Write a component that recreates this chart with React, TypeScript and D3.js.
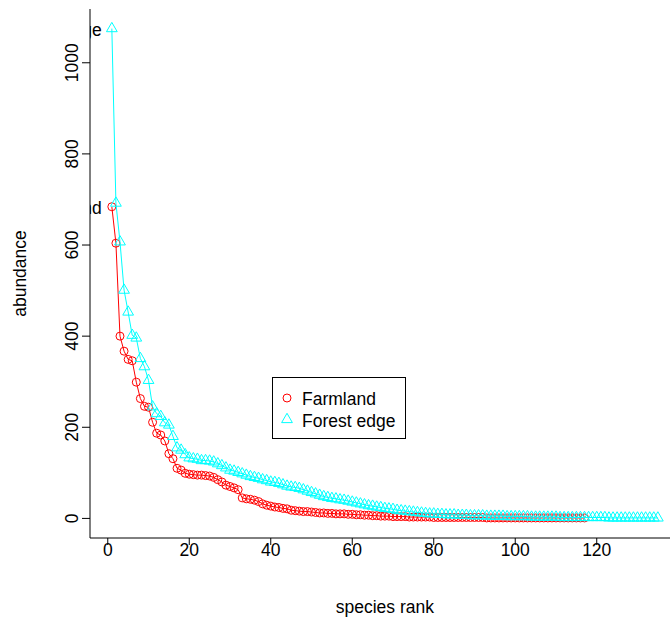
import React from "react";
import * as d3 from "d3";

const farmland: number[] = [
  684, 604, 400, 367, 349, 346, 299, 263, 246, 244,
  211, 187, 183, 170, 142, 131, 110, 106, 99,
  97, 96, 95, 95, 94, 93, 90, 85, 80, 73, 70, 67, 63,
  45, 43, 42, 40, 37, 32, 29, 27, 25, 24, 22, 21, 18, 17, 16, 15, 15, 14,
  13, 12, 12, 11, 11, 10, 10, 10, 9, 9,
  8, 8, 7, 7, 6, 6, 5, 5, 5, 4,
  4, 4, 4, 3, 3, 3, 3, 3, 3, 2,
  2, 2, 2, 2, 2, 2, 2, 2, 2, 2, 2, 2,
  1, 1, 1, 1, 1, 1, 1, 1, 1, 1, 1, 1, 1, 1, 1, 1, 1, 1, 1, 1, 1, 1, 1, 1, 1,
];

const forestEdge: number[] = [
  1075, 692, 607, 501, 453, 402, 396, 351, 333, 303,
  245, 230, 224, 210, 205, 180, 155, 150, 140,
  133, 131, 130, 127, 127, 126, 124, 120, 116, 111, 106, 104, 101, 98, 95, 92, 90, 88, 85, 83, 80,
  79, 77, 74, 71, 69, 68, 66, 63, 60, 57, 54, 51, 48, 46, 44, 43, 41, 40, 38, 36,
  34, 32, 30, 28, 27, 25, 24, 22, 21, 20, 18, 17, 16, 15, 14, 13, 12, 11, 10, 10,
  9, 9, 8, 8, 8, 7, 7, 7, 6, 6, 6, 6, 5, 5, 5, 5, 5, 4, 4, 4,
  4, 4, 4, 3, 3, 3, 3, 3, 3, 3,
  2, 2, 2, 2, 2, 2, 2, 2, 2, 2, 2, 2,
  1, 1, 1, 1, 1, 1, 1, 1, 1, 1, 1, 1, 1,
];

const seriesNames: string[] = ["Farmland", "Forest edge"];
const seriesColors: string[] = ["#ff0000", "#00ffff"];
const xTicks: number[] = [0, 20, 40, 60, 80, 100, 120];
const yTicks: number[] = [0, 200, 400, 600, 800, 1000];
const xTitle = "species rank";
const yTitle = "abundance";

const W = 670;
const H = 623;
const FONT = "'Liberation Sans', Arial, Helvetica, sans-serif";
const FS = 17.5;

// plot region (R-like)
const left = 90;
const right = 679.7;
const top = 9;
const bottom = 538;

function triPath(cx: number, cy: number, s: number): string {
  const r = 1.5551 * s;
  const xc = 1.3468 * s;
  const yc = 0.7776 * s;
  return `M${cx},${cy - r}L${cx + xc},${cy + yc}L${cx - xc},${cy + yc}Z`;
}

export default function App() {
  const nMax = Math.max(farmland.length, forestEdge.length);
  const yMax = Math.max(d3.max(farmland) ?? 0, d3.max(forestEdge) ?? 0);
  const xPad = 0.04 * (nMax - 1);
  const x = d3.scaleLinear().domain([1 - xPad, nMax + xPad]).range([left, right]);
  const y = d3.scaleLinear().domain([-0.04 * yMax, yMax * 1.04]).range([bottom, top]);

  const line = d3
    .line<number>()
    .x((_, i) => x(i + 1))
    .y((d) => y(d));

  const series = [farmland, forestEdge];
  const sym = 4;

  return (
    <svg
      width={W}
      height={H}
      style={{ position: "absolute", left: 0, top: 0, background: "#fff" }}
      fontFamily={FONT}
      fontSize={FS}
    >
      <defs>
        <clipPath id="plotclip">
          <rect x={left} y={top} width={right - left} height={bottom - top} />
        </clipPath>
      </defs>
      <rect x={0} y={0} width={W} height={H} fill="#fff" />

      <g clipPath="url(#plotclip)">
        {series.map((s, k) => (
          <g key={k}>
            <path d={line(s) ?? ""} fill="none" stroke={seriesColors[k]} strokeWidth={1} />
            {s.map((v, i) =>
              k === 0 ? (
                <circle key={i} cx={x(i + 1)} cy={y(v)} r={sym} fill="none" stroke={seriesColors[k]} strokeWidth={1} />
              ) : (
                <path key={i} d={triPath(x(i + 1), y(v), sym)} fill="none" stroke={seriesColors[k]} strokeWidth={1} />
              )
            )}
            <text
              x={x(1) - 10}
              y={y(s[0]) + 1}
              textAnchor="end"
              dominantBaseline="central"
              fill="#000"
            >
              {seriesNames[k]}
            </text>
          </g>
        ))}
      </g>

      {/* L-shaped box */}
      <path d={`M${left},${top}V${bottom}H${right}`} fill="none" stroke="#000" strokeWidth={1} />

      {/* x axis */}
      {xTicks.map((t) => (
        <g key={t}>
          <line x1={x(t)} x2={x(t)} y1={bottom} y2={bottom + 7} stroke="#000" />
          <text x={x(t)} y={bottom + 12} textAnchor="middle" dominantBaseline="central" fill="#000">
            {t}
          </text>
        </g>
      ))}
      {/* y axis */}
      {yTicks.map((t) => (
        <g key={t}>
          <line x1={left} x2={left - 8} y1={y(t)} y2={y(t)} stroke="#000" />
          <text
            transform={`translate(${left - 18},${y(t)}) rotate(-90)`}
            textAnchor="middle"
            dominantBaseline="central"
            fill="#000"
          >
            {t}
          </text>
        </g>
      ))}

      <text x={(left + right) / 2} y={bottom + 69} textAnchor="middle" dominantBaseline="central" fill="#000">
        {xTitle}
      </text>
      <text
        transform={`translate(${left - 70},${(top + bottom) / 2}) rotate(-90)`}
        textAnchor="middle"
        dominantBaseline="central"
        fill="#000"
      >
        {yTitle}
      </text>

      {/* legend */}
      <g>
        <rect x={272.5} y={377.5} width={133} height={61} fill="#fff" stroke="#000" strokeWidth={1} />
        {seriesNames.map((name, k) => {
          const cy = 398 + k * 21.5;
          return (
            <g key={name}>
              {k === 0 ? (
                <circle cx={287} cy={cy} r={sym} fill="none" stroke={seriesColors[k]} />
              ) : (
                <path d={triPath(287, cy, sym)} fill="none" stroke={seriesColors[k]} />
              )}
              <text x={302} y={cy + 1} dominantBaseline="central" fill="#000">
                {name}
              </text>
            </g>
          );
        })}
      </g>
    </svg>
  );
}
